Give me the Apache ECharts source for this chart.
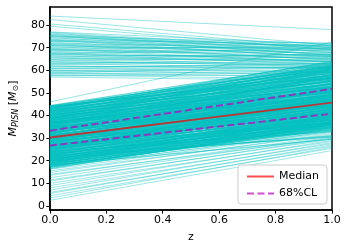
<!DOCTYPE html>
<html><head><meta charset="utf-8">
<script src="https://cdn.jsdelivr.net/npm/echarts@6/dist/echarts.min.js"></script>
<style>html,body{margin:0;padding:0;background:#fff}#c{width:350px;height:250px}</style>
</head><body><div id="c"></div>
<script>
const zVals = [0, 1];
const xTicks = [0, 0.2, 0.4, 0.6, 0.8, 1.0];
const yTicks = [0, 10, 20, 30, 40, 50, 60, 70, 80];
const medianVals = [30.3, 45.7];
const clLowVals = [26.7, 40.8];
const clHighVals = [33.3, 51.8];
// main dense band
const bandStart = [17.0,17.5,18.0,18.4,18.8,19.2,19.5,19.9,20.2,20.6,21.0,21.3,21.7,22.0,22.4,22.8,23.1,23.5,23.9,24.2,24.6,25.0,25.3,25.7,26.0,26.4,26.8,27.1,27.5,27.9,28.2,28.6,29.0,29.3,29.7,30.0,30.4,30.8,31.1,31.5,31.9,32.2,32.6,33.0,33.3,33.7,34.1,34.4,34.8,35.2,35.5,35.9,36.3,36.6,37.0,37.4,37.7,38.1,38.5,38.8,39.2,39.6,39.9,40.3,40.7,41.0,41.4,41.8,42.1,42.5,42.9,43.2,43.6,44.0,
  24.5,35,28,40,20,33,38,22,26,31,36,19,29,34,27,32,37,25,30,39,21,23,42,44,43,18,16.5,30.5,26.5,35.5,24,33.5,41,28.5,36.5,31.5,38.5,25.5,29.5,32.5];
const bandEnd = [33.0,34.5,33.5,35.0,34.0,36.0,34.8,35.5,37.0,35.8,36.5,38.0,36.9,37.5,39.0,38.0,38.6,40.0,39.0,39.8,41.0,40.2,41.5,42.5,41.2,42.8,43.6,42.5,44.0,44.8,43.6,45.2,46.0,44.8,46.5,47.2,45.8,47.6,48.3,46.8,48.8,49.6,48.0,50.0,50.8,49.2,51.2,52.0,50.6,52.5,53.3,51.8,53.8,54.5,53.0,55.0,55.8,54.2,56.2,57.0,55.6,57.5,58.3,56.8,58.8,59.5,58.0,60.0,60.6,59.2,61.0,61.6,60.4,62.0,
  48,44,52,50,42,58,47,30.5,46,41,60,40,50,46.5,38.5,54,51,43,39,62,31,36,55,57,64,29.5,36,52.5,37,57,33,44.5,52,40,48.5,43,60.5,36.5,41.5,45.5];
const band2Start = [17.2,17.8,18.2,18.6,19.0,19.4,19.7,20.0,20.4,20.8,21.1,21.5,21.9,22.2,22.6,23.0,23.3,23.7,24.0,24.4,24.8,25.1,25.5,25.9,26.2,26.6,27.0,27.3,27.7,28.0,28.4,28.8,29.1,29.5,29.9,30.2,30.6,31.0,31.3,31.7,32.0,32.4,32.8,33.1,33.5,33.9,34.2,34.6,35.0,35.3,35.7,36.1,36.4,36.8,37.2,37.5,37.9,38.3,38.6,39.0,39.4,39.7,40.1,40.5,40.8,41.2,41.6,41.9,42.3,42.7,43.0,43.4,43.8,44.2,
  24.3,25.2,26.1,27.2,28.1,29.2,30.1,31.2,32.1,33.2,34.2,35.1,36.2,37.1,38.2,39.1,26.7,28.7,30.7,32.7,34.7,36.7,38.7,22.5,23.6,21.6,20.5,19.6,18.5,17.4,40.2,41.5,42.6,43.5,44.4];
const band2End = [35.5,33.8,36.5,34.2,37.5,35.2,38.5,34.5,39.0,36.2,40.0,37.2,35.0,41.0,38.4,36.0,42.0,39.4,37.0,43.0,40.5,38.0,44.0,41.5,39.5,45.0,42.0,40.5,46.0,43.2,41.5,47.0,44.2,42.5,48.0,45.2,43.5,49.0,46.2,44.5,50.5,47.2,45.8,51.5,48.2,47.0,53.0,49.2,48.0,54.0,50.4,49.0,55.5,51.5,50.2,56.5,52.6,51.0,58.0,53.8,52.5,59.0,55.0,54.0,60.2,56.2,55.2,61.2,57.5,56.5,62.0,58.8,57.8,61.5,
  39.2,42.2,43.9,45.4,44.4,47.4,46.4,47.9,48.9,49.4,50.3,51.3,52.4,54.2,55.4,56.8,40.8,42.6,44.6,46.6,48.6,50.8,52.8,37.8,38.9,39.5,38.2,36.8,37.2,36.2,59.8,61.0,62.5,63.0,63.5];
// sparse low lines
const lowStart = [2.5,3.5,4.5,5.5,6.0,7.0,8.0,9.0,10.0,11.0,11.5,12.5,13.5,14.0,14.8,15.5,16.2];
const lowEnd   = [24.5,26.0,25.5,27.0,26.5,28.0,27.5,29.0,28.5,30.0,29.5,30.5,31.0,30.0,32.0,31.5,32.5];
// upper group (plus one faint crossing line)
const highStart = [84,82.5,80.5,79.5,77,76.5,76,75.5,75,74.5,74,73.5,73,72.5,72,71.5,71,70.5,70,69.5,69,68.5,68,67.5,67,66.5,66,65.5,65,64.5,64,63.5,63,62.5,62,61.5,61,60.5,60,59.5,59,58.5,58,57.5,57,
  76.8,75.8,74.8,73.8,72.8,71.8,70.8,69.8,68.8,67.8,66.8,65.8,64.8,63.8,62.8,61.8,60.8,59.8,58.8,57.8,75.2,73.2,71.2,69.2,67.2,46];
const highEnd   = [78,71,70,69,71.5,68,70,66.5,69,67,71,65.5,68.5,66,69.5,64.5,67.5,65,70,63.5,66.5,64,68,62.5,65.5,63,67,62,64.5,61.5,66,63,61,64,60.5,62.5,59,61.5,58,60,57,59.5,56,58,55.5,
  69.5,67.8,70.5,66.8,70.8,66.2,69.2,64.8,68.8,63.8,66.2,64,67.2,62.2,65.2,61.2,63.2,60.8,62,59,71.8,72,71.2,70.8,69.8,72.5];

const thin = [];
function addLines(a, b, alpha, w) {
  for (let i = 0; i < a.length; i++) {
    thin.push({type:'line', silent:true, symbol:'none', z:1,
      data:[[zVals[0], a[i]], [zVals[1], b[i]]],
      lineStyle:{color:'rgba(0,191,191,' + alpha + ')', width:w}});
  }
}
addLines(bandStart, bandEnd, 0.6, 1.2);
addLines(band2Start, band2End, 0.6, 1.2);
addLines(lowStart, lowEnd, 0.38, 1);
addLines(highStart, highEnd, 0.4, 1);

const font = 'DejaVu Sans';
const chart = echarts.init(document.getElementById('c'), null, {renderer:'canvas'});
chart.setOption({
  animation:false,
  grid:{left:44, right:18, top:7, bottom:40, show:true, borderColor:'#000', borderWidth:1.5, backgroundColor:'transparent'},
  legend:{data:['Median','68%CL'], orient:'vertical', right:23, bottom:46, itemWidth:27, itemHeight:10, itemGap:6,
    borderColor:'#cccccc', borderWidth:1, borderRadius:3, padding:[6,8,5,8], backgroundColor:'rgba(255,255,255,0.85)',
    itemStyle:{color:'rgba(0,0,0,0)', borderWidth:0, opacity:0},
    textStyle:{fontFamily:font, fontSize:11, color:'#000'}},
  xAxis:{type:'value', min:0, max:1, interval:0.2, name:'z', nameLocation:'middle', nameGap:22,
    nameTextStyle:{fontFamily:font, fontSize:11, color:'#000'},
    axisLine:{show:true, onZero:false, lineStyle:{color:'#000', width:1.5}},
    axisTick:{show:true, length:3.5, lineStyle:{color:'#000'}},
    splitLine:{show:false},
    axisLabel:{fontFamily:font, fontSize:11, color:'#000', margin:5, formatter:v=>v.toFixed(1)}},
  yAxis:{type:'value', min:-1.8, max:88,
    name:'{i|M}{s|PISN} [{i|M}{s|⊙}]', nameLocation:'middle', nameGap:26, nameRotate:90,
    nameTextStyle:{fontFamily:font, fontSize:11, color:'#000',
      rich:{i:{fontFamily:font, fontStyle:'italic', fontSize:11, color:'#000'},
            s:{fontFamily:font, fontStyle:'italic', fontSize:8, color:'#000', verticalAlign:'bottom', padding:[5,0,0,0]}}},
    axisLine:{show:true, onZero:false, lineStyle:{color:'#000', width:1.5}},
    axisTick:{show:true, length:3.5, lineStyle:{color:'#000'}, customValues:yTicks},
    splitLine:{show:false},
    axisLabel:{fontFamily:font, fontSize:11, color:'#000', margin:5, customValues:yTicks}},
  series: thin.concat([
    {type:'line', name:'Median', symbol:'none', z:5, data:[[zVals[0],medianVals[0]],[zVals[1],medianVals[1]]],
      lineStyle:{color:'rgba(255,0,0,0.7)', width:2}, itemStyle:{color:'rgba(255,0,0,0.7)'}},
    {type:'line', name:'68%CL', symbol:'none', z:5, data:[[zVals[0],clLowVals[0]],[zVals[1],clLowVals[1]]],
      lineStyle:{color:'rgba(191,0,191,0.7)', width:2, type:[7,3.5]}, itemStyle:{color:'rgba(191,0,191,0.7)'}},
    {type:'line', name:'68%CL', symbol:'none', z:5, data:[[zVals[0],clHighVals[0]],[zVals[1],clHighVals[1]]],
      lineStyle:{color:'rgba(191,0,191,0.7)', width:2, type:[7,3.5]}, itemStyle:{color:'rgba(191,0,191,0.7)'}}
  ])
});
</script></body></html>
